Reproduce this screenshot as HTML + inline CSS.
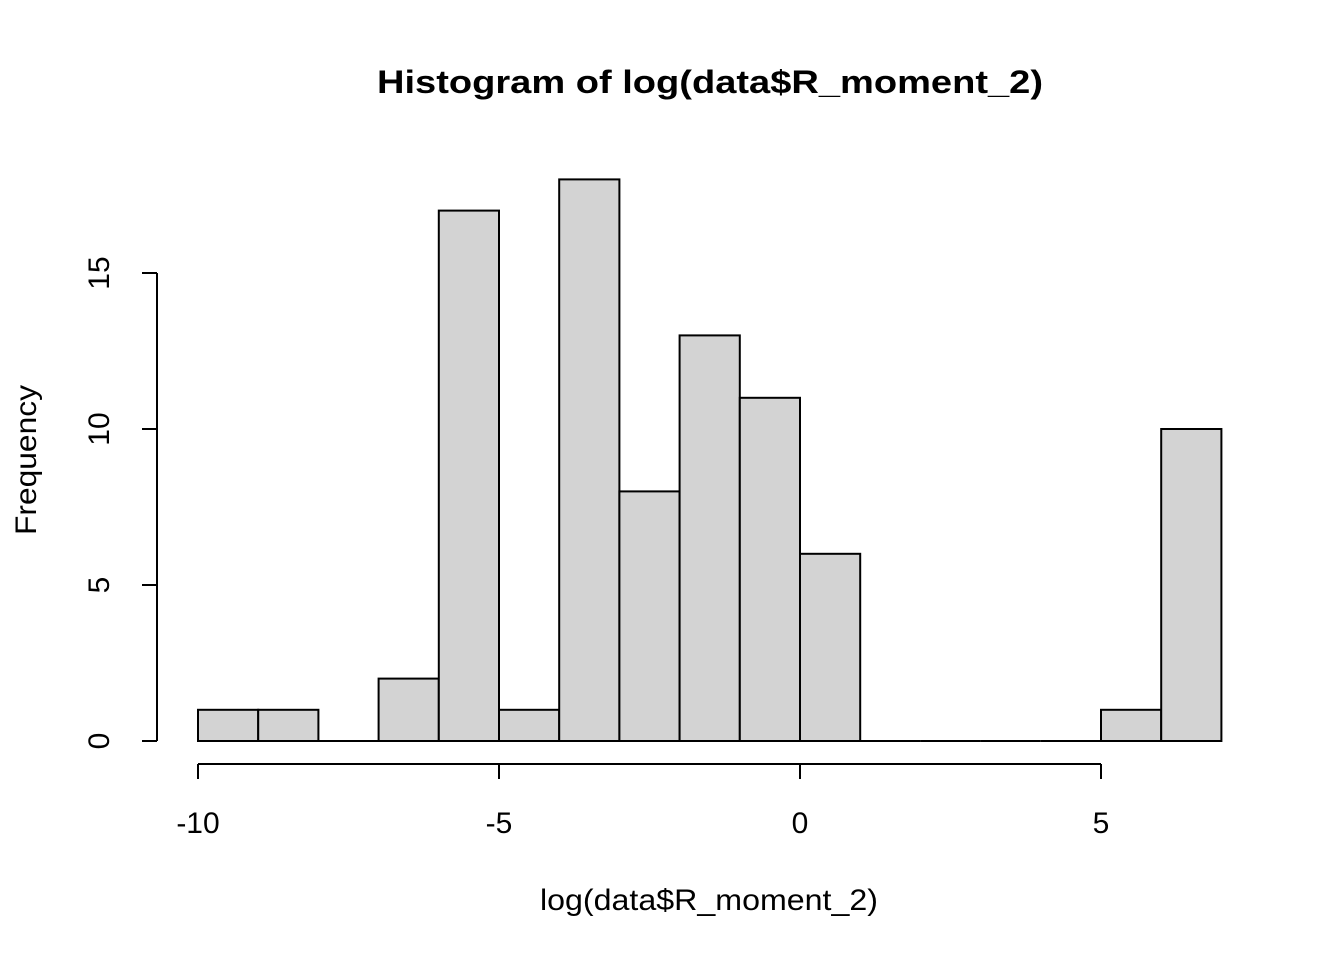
<!DOCTYPE html>
<html><head><meta charset="utf-8"><style>body{margin:0;background:#fff}svg{display:block}text{font-family:"Liberation Sans",Arial,sans-serif}</style></head>
<body>
<svg id="chart" width="1344" height="960" xmlns="http://www.w3.org/2000/svg">
<text x="710" y="93" text-anchor="middle" font-size="32" font-weight="bold" textLength="666" lengthAdjust="spacingAndGlyphs">Histogram of log(data$R_moment_2)</text>
<text x="709" y="910" text-anchor="middle" font-size="30" textLength="338" lengthAdjust="spacingAndGlyphs">log(data$R_moment_2)</text>
<text transform="translate(36,460) rotate(-90)" text-anchor="middle" font-size="30" textLength="150" lengthAdjust="spacingAndGlyphs">Frequency</text>
<g id="bars"></g><g id="xaxis"></g><g id="yaxis"></g>
</svg>
<script>
const binStarts=[-10,-9,-8,-7,-6,-5,-4,-3,-2,-1,0,1,2,3,4,5,6];
const counts=[1,1,0,2,17,1,18,8,13,11,6,0,0,0,0,1,10];
const xTicks=[-10,-5,0,5];
const yTicks=[0,5,10,15];
const binWidth=1;
const NS="http://www.w3.org/2000/svg";
const xs=v=>198+(v+10)*(1101-198)/15;
const ys=v=>741-v*(741-273)/15;
function mk(t,a,p){const e=document.createElementNS(NS,t);for(const k in a)e.setAttribute(k,a[k]);p.appendChild(e);return e;}
const bars=document.getElementById('bars');
binStarts.forEach((b,i)=>{const x0=xs(b),x1=xs(b+binWidth),y=ys(counts[i]);
let r;
if(counts[i]>0){r=mk('rect',{x:x0,y:y,width:x1-x0,height:ys(0)-y,fill:'#d3d3d3',stroke:'#000','stroke-width':2},bars);}
else{r=mk('line',{x1:x0,x2:x1,y1:ys(0),y2:ys(0),stroke:'#000','stroke-width':2},bars);}

});
const xa=document.getElementById('xaxis');
const xl=mk('line',{x1:xs(xTicks[0]),x2:xs(xTicks[xTicks.length-1]),y1:764,y2:764,stroke:'#000','stroke-width':2},xa);


xTicks.forEach(t=>{mk('line',{x1:xs(t),x2:xs(t),y1:764,y2:779,stroke:'#000','stroke-width':2},xa);
const tx=mk('text',{x:xs(t),y:833,'text-anchor':'middle','font-size':30},xa);tx.textContent=t;

});
const ya=document.getElementById('yaxis');
const yl=mk('line',{x1:157,x2:157,y1:ys(yTicks[0]),y2:ys(yTicks[yTicks.length-1]),stroke:'#000','stroke-width':2},ya);


yTicks.forEach(t=>{mk('line',{x1:142,x2:157,y1:ys(t),y2:ys(t),stroke:'#000','stroke-width':2},ya);
const tx=mk('text',{transform:`translate(109,${ys(t)}) rotate(-90)`,'text-anchor':'middle','font-size':30},ya);tx.textContent=t;

});
</script>
</body></html>
